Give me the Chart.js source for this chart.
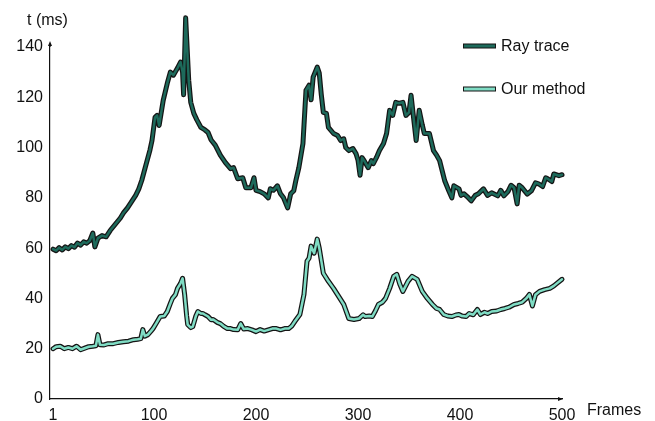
<!DOCTYPE html>
<html><head><meta charset="utf-8">
<script src="https://cdn.jsdelivr.net/npm/chart.js@4.4.1/dist/chart.umd.min.js"></script>
<style>html,body{margin:0;padding:0;background:#fff}#wrap{width:655px;height:421px}</style>
</head><body><div id="wrap"><canvas id="c" width="655" height="421"></canvas></div>
<script>
const seriesNames = ['Ray trace', 'Our method'];
const xTickValues = [1, 100, 200, 300, 400, 500];
const yTickValues = [0, 20, 40, 60, 80, 100, 120, 140];
const yAxisTitle = 't (ms)';
const xAxisTitle = 'Frames';

const rayFrames = [1,4,7,10,13,16,19,22,25,28,31,34,37,40,42,45,49,53,57,61,64,67,70,74,78,82,85,88,92,96,98,101,103,105,109,113,116,119,123,126,128,129,131,134,136,139,142,146,150,153,156,160,165,170,175,178,182,187,190,195,198,200,204,208,212,214,217,221,224,227,231,234,237,239,242,246,249,252,254,256,260,262,264,266,269,271,276,280,283,286,288,291,295,298,300,302,304,306,310,313,315,318,321,325,328,331,334,337,340,344,347,350,352,355,357,360,363,365,370,374,377,380,385,389,392,394,399,401,404,407,411,415,418,421,423,427,431,433,437,440,443,447,450,453,456,458,461,466,470,474,477,481,484,486,490,492,497,500];
const rayValues = [59.6,59,60.2,59.3,60.5,59.8,61,60.4,62,61.2,62.5,62,63,66,60.5,64,65,64.5,67,69,70.5,72,74,76,78.5,81,83.5,87,93,99,102.8,112,112.8,108.8,118.8,125.6,130,128.8,131.6,134,130,121,151.6,126.8,118,113.6,111,108,107,106,103,101,97,94,91.6,92,87.6,88,84,84,88,83,82.5,81.6,80,83.6,83,84.8,81.6,80,76,81.6,82.8,86.8,92,101.6,122.8,124.8,119,128,132,129.6,121,114,113.6,108,105.6,104.8,102.8,103.5,100,98.8,99.6,97.6,95,89,96,94.8,92,94.8,93.6,96,98.8,101.6,105.6,114.8,112.8,118,117.6,118,112.8,114,120.8,110,102.8,114.8,109,105.6,105.6,98.8,97,94.8,86.8,82.8,80,84.8,83.6,81,81.6,80.5,78.8,81,81.6,82.8,83.6,81,82,81.6,80.8,83,80.8,82.5,85,84,77.6,85,84,81.5,82.8,86,85.6,84.5,88,87.6,86.5,89.5,88.8,89.2];

const ourFrames = [1,4,8,12,16,20,24,28,32,36,40,43,45,47,51,55,60,65,70,75,80,84,87,89,91,94,97,99,102,106,110,113,116,118,121,123,126,128,130,132,133,136,138,141,143,146,148,150,153,156,158,162,165,168,172,175,178,182,185,188,192,196,200,204,208,212,216,220,224,228,232,235,238,243,247,250,252,254,257,260,262,266,271,276,281,286,291,296,301,305,307,311,314,317,320,324,327,331,335,338,341,344,349,353,358,363,368,373,377,380,384,388,392,396,399,402,406,409,413,417,420,424,427,431,436,440,444,448,453,457,461,465,468,471,474,478,483,488,492,495,500];
const ourValues = [20,20.8,21,20,20.5,20,21,19.6,20.2,20.8,21,21.2,25.6,21.6,21.5,22,22,22.5,22.8,23,23.6,23.8,24,27.6,25,25.6,27,28,30,32.8,33,34.8,38,40,41.5,44,46,48,41.6,33,29.6,28.4,28.8,33,34.8,34,34,33.5,32.8,31.5,31.6,30.5,30,29,28,28,27.6,27.5,30,27.8,28,27.5,26.8,27.6,27,27.5,28,28,27.5,28,28,29,30.8,33.6,41.6,54.8,56,60.8,58,63.6,60,50,46.8,44,40.8,37.6,32,31.6,32,33.5,32.8,33,32.8,35,37.6,38.5,40,44,48.8,49.6,45.6,42.8,46.8,48.8,47.6,42.8,40,37.6,36,35.6,33.6,33,32.8,33.4,33.6,33,32.8,34,33.5,35.6,33.6,34.5,34,34.8,35,35.6,36,36.5,37.6,38,38.5,40,41.6,37,41.5,42.8,43.5,44,45,46,47.6];

const rayColor = '#1d6a5b';
const ourColor = '#7fdcc4';
const outlineColor = '#151515';
const FONT = '"Liberation Sans", Arial, Helvetica, sans-serif';

function pts(fr, vals) { return fr.map((f, i) => ({ x: f, y: vals[i] })); }

function lineDs(label, data, color, width, order) {
  return {
    label, data, borderColor: color, borderWidth: width, pointRadius: 0,
    tension: 0, fill: false, clip: false, order,
    borderJoinStyle: 'round', borderCapStyle: 'round'
  };
}

const extras = {
  id: 'extras',
  afterDraw(chart) {
    const ctx = chart.ctx;
    const a = chart.chartArea;
    ctx.save();
    ctx.fillStyle = '#111';
    ctx.strokeStyle = '#111';
    ctx.lineWidth = 1.2;
    // y-axis arrow
    ctx.beginPath(); ctx.moveTo(a.left, a.top); ctx.lineTo(a.left, a.top - 3); ctx.stroke();
    ctx.beginPath(); ctx.moveTo(a.left, a.top - 6); ctx.lineTo(a.left - 2, a.top - 1); ctx.lineTo(a.left + 2, a.top - 1); ctx.closePath(); ctx.fill();
    // x-axis arrow
    ctx.beginPath(); ctx.moveTo(a.right + 1, a.bottom); ctx.lineTo(a.right - 4, a.bottom - 2); ctx.lineTo(a.right - 4, a.bottom + 2); ctx.closePath(); ctx.fill();
    // axis titles
    ctx.font = '16px ' + FONT;
    ctx.textBaseline = 'middle';
    ctx.textAlign = 'left';
    ctx.fillText(yAxisTitle, 27, 21);
    ctx.fillText(xAxisTitle, 587, 411);
    // legend
    const items = [[seriesNames[0], rayColor, 46], [seriesNames[1], ourColor, 89]];
    items.forEach(([name, col, y]) => {
      ctx.fillStyle = col;
      ctx.fillRect(463.5, y - 2, 32, 4);
      ctx.strokeStyle = outlineColor; ctx.lineWidth = 1;
      ctx.strokeRect(463.5, y - 2, 32, 4);
      ctx.fillStyle = '#111';
      ctx.fillText(name, 501, y + 1);
    });
    ctx.restore();
  }
};

new Chart(document.getElementById('c'), {
  type: 'line',
  data: {
    datasets: [
      lineDs(seriesNames[0] + ' outline', pts(rayFrames, rayValues), outlineColor, 5, 2),
      lineDs(seriesNames[0], pts(rayFrames, rayValues), rayColor, 2.5, 1),
      lineDs(seriesNames[1] + ' outline', pts(ourFrames, ourValues), outlineColor, 5, 2),
      lineDs(seriesNames[1], pts(ourFrames, ourValues), ourColor, 2.5, 1)
    ]
  },
  options: {
    responsive: false,
    animation: false,
    devicePixelRatio: 1,
    layout: { padding: { top: 47, right: 93, bottom: 0, left: 0 } },
    plugins: { legend: { display: false }, tooltip: { enabled: false } },
    scales: {
      x: {
        type: 'linear', min: -2, max: 500,
        grid: { display: false, drawTicks: false },
        border: { display: true, color: '#111', width: 1.2 },
        afterBuildTicks: s => { s.ticks = xTickValues.map(v => ({ value: v })); },
        afterFit: s => { s.height = 22; },
        ticks: { padding: 7, color: '#111', font: { family: FONT, size: 16 }, maxRotation: 0, autoSkip: false }
      },
      y: {
        type: 'linear', min: 0, max: 140,
        grid: { display: false, drawTicks: false },
        border: { display: true, color: '#111', width: 1.2 },
        afterBuildTicks: s => { s.ticks = yTickValues.map(v => ({ value: v })); },
        afterFit: s => { s.width = 50; },
        ticks: { padding: 7, color: '#111', font: { family: FONT, size: 16 }, autoSkip: false }
      }
    }
  },
  plugins: [extras]
});
</script></body></html>
